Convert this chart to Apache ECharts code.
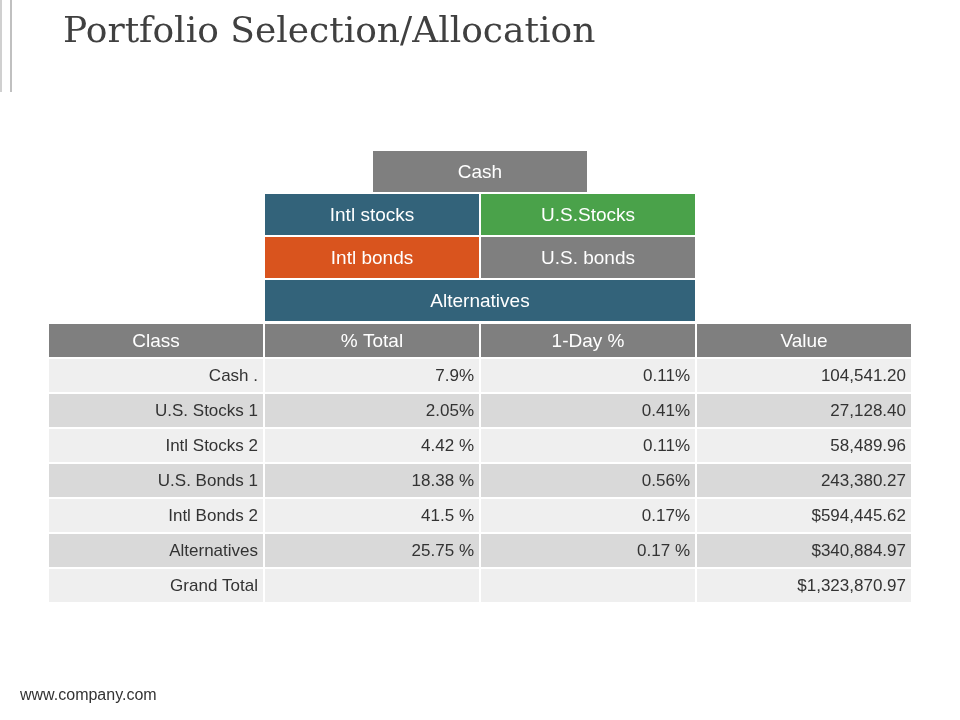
<!DOCTYPE html>
<html><head><meta charset="utf-8">
<script src="https://cdn.jsdelivr.net/npm/echarts@6/dist/echarts.min.js"></script>
<style>html,body{margin:0;padding:0;background:#fff}#c{width:960px;height:720px}</style>
</head><body><div id="c"></div>
<script>
const headers = ['Class', '% Total', '1-Day %', 'Value'];
const classes = ['Cash .', 'U.S. Stocks 1', 'Intl Stocks 2', 'U.S. Bonds 1', 'Intl Bonds 2', 'Alternatives', 'Grand Total'];
const pctTotal = ['7.9%', '2.05%', '4.42 %', '18.38 %', '41.5 %', '25.75 %', ''];
const oneDay = ['0.11%', '0.41%', '0.11%', '0.56%', '0.17%', '0.17 %', ''];
const values = ['104,541.20', '27,128.40', '58,489.96', '243,380.27', '$594,445.62', '$340,884.97', '$1,323,870.97'];
// top blocks: [colStart, row, span, label, colour]
const blocks = [
  [1.5, 0, 1, 'Cash', '#7f7f7f'],
  [1, 1, 1, 'Intl stocks', '#33637a'],
  [2, 1, 1, 'U.S.Stocks', '#4aa24a'],
  [1, 2, 1, 'Intl bonds', '#d9541e'],
  [2, 2, 1, 'U.S. bonds', '#7f7f7f'],
  [1, 3, 2, 'Alternatives', '#33637a']
];

const tableData = [];
headers.forEach((h, c) => tableData.push([c, 0, 1, h, '#7f7f7f', 'head']));
const cols = [classes, pctTotal, oneDay, values];
classes.forEach((_, r) => {
  cols.forEach((arr, c) => tableData.push([c, r + 1, 1, arr[r], r % 2 === 0 ? '#efefef' : '#d9d9d9', 'body']));
});

function render(params, api) {
  const c0 = api.value(0), r = api.value(1), span = api.value(2);
  const p0 = api.coord([c0, r]);
  const p1 = api.coord([c0 + span, r + 1]);
  const item = (params.seriesIndex === 0 ? blocks : tableData)[params.dataIndex];
  const isBody = item[5] === 'body';
  const w = p1[0] - p0[0], h = p1[1] - p0[1];
  return {
    type: 'group',
    children: [
      { type: 'rect', shape: { x: p0[0], y: p0[1], width: w, height: h },
        style: { fill: item[4], stroke: '#fff', lineWidth: 2 } },
      { type: 'text', x: isBody ? p1[0] - 6 : p0[0] + w / 2, y: p0[1] + h / 2 + 1,
        style: { text: item[3], fill: isBody ? '#333' : '#fff',
          font: (isBody ? '17px' : '19px') + ' "Liberation Sans", Arial, sans-serif',
          align: isBody ? 'right' : 'center', verticalAlign: 'middle' } }
    ]
  };
}

const chart = echarts.init(document.getElementById('c'));
const axX = i => ({ type: 'value', gridIndex: i, min: 0, max: 4, show: false });
const axY = (i, n) => ({ type: 'value', gridIndex: i, min: 0, max: n, inverse: true, show: false });
chart.setOption({
  animation: false,
  title: { text: 'Portfolio Selection/Allocation', left: 58, top: 10,
    textStyle: { fontFamily: '"DejaVu Serif", Georgia, serif', fontWeight: 'normal', fontSize: 36, color: '#404040' } },
  graphic: [
    { type: 'text', left: 20, top: 688, style: { text: 'www.company.com', font: '16px "Liberation Sans", Arial', fill: '#333' } },
    { type: 'rect', left: 0, top: 0, shape: { width: 2, height: 92 }, style: { fill: '#d0d0d0' } },
    { type: 'rect', left: 10, top: 0, shape: { width: 2, height: 92 }, style: { fill: '#c0c0c0' } }
  ],
  grid: [
    { left: 48, right: 48, top: 150, height: 172 },
    { left: 48, right: 48, top: 323, height: 280 }
  ],
  xAxis: [axX(0), axX(1)],
  yAxis: [axY(0, 4), axY(1, 8)],
  series: [
    { type: 'custom', xAxisIndex: 0, yAxisIndex: 0, renderItem: render, data: blocks.map(b => [b[0], b[1], b[2]]) },
    { type: 'custom', xAxisIndex: 1, yAxisIndex: 1, renderItem: render, data: tableData.map(d => [d[0], d[1], d[2]]) }
  ]
});
</script></body></html>
